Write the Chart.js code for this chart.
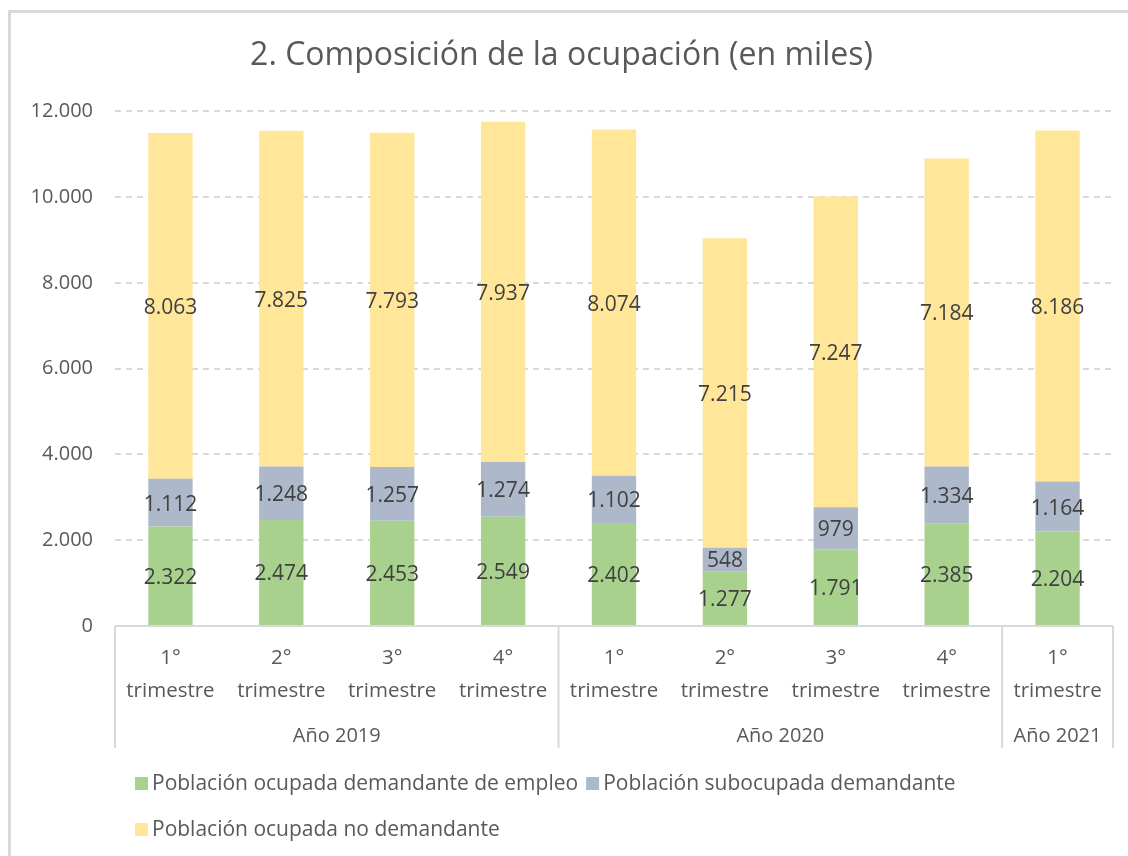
<!DOCTYPE html>
<html>
<head>
<meta charset="utf-8">
<script src="https://cdn.jsdelivr.net/npm/chart.js@4"></script>
<style>
  html, body { margin: 0; padding: 0; background: #fff; }
  #wrap { position: relative; width: 1128px; height: 856px; }
  #frame { position: absolute; left: 8px; top: 10px; right: -4px; bottom: -4px;
           border-top: 3px solid #d9d9d9; border-left: 3px solid #d9d9d9; }
  canvas { position: absolute; left: 0; top: 0; }
</style>
</head>
<body>
<div id="wrap">
  <div id="frame"></div>
  <canvas id="chart" width="1128" height="856"></canvas>
</div>
<script>
// Data
const quarters = ['1°', '2°', '3°', '4°', '1°', '2°', '3°', '4°', '1°'];
const years = ['Año 2019', 'Año 2020', 'Año 2021'];
const yearSizes = [4, 4, 1];
const demandantes = [2322, 2474, 2453, 2549, 2402, 1277, 1791, 2385, 2204];
const subocupados = [1112, 1248, 1257, 1274, 1102, 548, 979, 1334, 1164];
const noDemandantes = [8063, 7825, 7793, 7937, 8074, 7215, 7247, 7184, 8186];
const seriesNames = [
  'Población ocupada demandante de empleo',
  'Población subocupada demandante',
  'Población ocupada no demandante'
];
const colors = ['#a9d18e', '#adb9ca', '#ffe699'];

const FONT = '"Open Sans", sans-serif';
const TEXT = '#595959';
const fmt = v => v.toLocaleString('de-DE');

// value labels centred in each segment
const segmentLabels = {
  id: 'segmentLabels',
  afterDatasetsDraw(chart) {
    const ctx = chart.ctx;
    ctx.save();
    ctx.font = '21px ' + FONT;
    ctx.fillStyle = '#404040';
    ctx.textAlign = 'center';
    ctx.textBaseline = 'middle';
    chart.data.datasets.forEach((ds, i) => {
      chart.getDatasetMeta(i).data.forEach((bar, j) => {
        const mid = (bar.y + bar.base) / 2;
        ctx.fillText(fmt(ds.data[j]), bar.x, mid + 2);
      });
    });
    ctx.restore();
  }
};

// year row, separators and bottom legend
const groupAxis = {
  id: 'groupAxis',
  afterDraw(chart) {
    const ctx = chart.ctx;
    const x = chart.scales.x;
    const area = chart.chartArea;
    const half = (x.getPixelForValue(1) - x.getPixelForValue(0)) / 2;
    const bottom = area.bottom + 122;
    ctx.save();
    ctx.strokeStyle = '#d9d9d9';
    ctx.lineWidth = 2;
    ctx.beginPath();
    ctx.moveTo(area.left, area.bottom);
    ctx.lineTo(area.right, area.bottom);
    let idx = 0;
    const edges = [area.left];
    yearSizes.forEach(n => { idx += n; edges.push(x.getPixelForValue(idx - 1) + half); });
    edges.forEach(px => { ctx.moveTo(px, area.bottom); ctx.lineTo(px, bottom); });
    ctx.stroke();

    ctx.font = '20px ' + FONT;
    ctx.fillStyle = TEXT;
    ctx.textAlign = 'center';
    ctx.textBaseline = 'middle';
    years.forEach((y, i) => {
      ctx.fillText(y, (edges[i] + edges[i + 1]) / 2, area.bottom + 110);
    });

    // legend
    ctx.font = '21px ' + FONT;
    ctx.textAlign = 'left';
    const rows = [[0, 1], [2]];
    let ly = area.bottom + 158;
    rows.forEach(row => {
      let lx = 135;
      row.forEach(k => {
        ctx.fillStyle = colors[k];
        ctx.fillRect(lx, ly - 7, 13, 13);
        ctx.fillStyle = TEXT;
        ctx.fillText(seriesNames[k], lx + 17, ly);
        lx += 17 + ctx.measureText(seriesNames[k]).width + 8;
      });
      ly += 46;
    });
    ctx.restore();
  }
};

new Chart(document.getElementById('chart'), {
  type: 'bar',
  data: {
    labels: quarters.map(q => [q, 'trimestre']),
    datasets: [
      { label: seriesNames[0], data: demandantes, backgroundColor: colors[0] },
      { label: seriesNames[1], data: subocupados, backgroundColor: colors[1] },
      { label: seriesNames[2], data: noDemandantes, backgroundColor: colors[2] }
    ]
  },
  options: {
    responsive: false,
    animation: false,
    layout: { padding: { left: 10, right: 15, top: 0, bottom: 108 } },
    datasets: { bar: { barPercentage: 0.4, categoryPercentage: 1 } },
    plugins: {
      legend: { display: false },
      tooltip: { enabled: false },
      title: {
        display: true,
        text: '2. Composición de la ocupación (en miles)',
        color: TEXT,
        font: { family: FONT, size: 32, weight: 'normal' },
        padding: { top: 37, bottom: 36 }
      }
    },
    scales: {
      x: {
        stacked: true,
        grid: { display: false },
        border: { display: false },
        afterFit: s => { s.height = 122; },
        ticks: {
          color: TEXT,
          font: { family: FONT, size: 20.5, lineHeight: 1.6 },
          padding: 8,
          maxRotation: 0,
          autoSkip: false
        }
      },
      y: {
        stacked: true,
        min: 0,
        max: 12000,
        afterFit: s => { s.width = 105; },
        border: { display: false, dash: [6, 5] },
        grid: {
          color: ctx => ctx.tick.value === 0 ? 'rgba(0,0,0,0)' : '#d9d9d9',
          lineWidth: 2,
          drawTicks: false
        },
        ticks: {
          stepSize: 2000,
          color: TEXT,
          padding: 22,
          font: { family: FONT, size: 20 },
          callback: v => fmt(v)
        }
      }
    }
  },
  plugins: [segmentLabels, groupAxis]
});
</script>
</body>
</html>
